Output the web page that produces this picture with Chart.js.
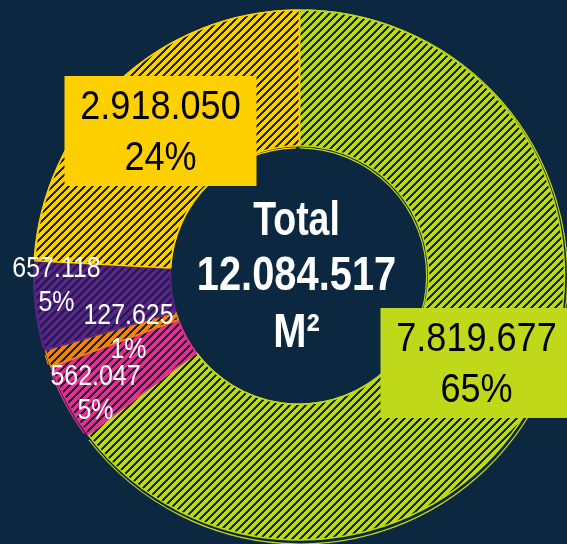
<!DOCTYPE html>
<html lang="es">
<head>
    <meta charset="UTF-8">
    <title>Superficie total</title>
    <script src="https://cdn.jsdelivr.net/npm/chart.js"></script>
    <style>
        html, body {
            margin: 0;
            padding: 0;
            background: #0c2740;
        }
        .chart-container {
            width: 567px;
            height: 544px;
        }
    </style>
</head>
<body>
    <div class="chart-container">
        <canvas id="myChart" width="567" height="544"></canvas>
    </div>

    <script>
        // Data (clockwise from 12 o'clock)
        const categories = ['Verde', 'Rosa', 'Naranja', 'Morado', 'Amarillo'];
        const values = [7819677, 562047, 127625, 657118, 2918050];
        const colors = ['#bfd81a', '#e0318b', '#f0860f', '#5c2386', '#ffd000'];
        const unitLabel = 'M²';

        // label placement, relative to the chart centre
        const labelOffsets = [
            {dx: 177, dy: 88, box: true},
            {dx: -204, dy: 118, box: false},
            {dx: -171, dy: 57, box: false},
            {dx: -243, dy: 10, box: false},
            {dx: -139, dy: -144, box: true}
        ];

        const bg = '#0c2740';
        const font = '"Liberation Sans", Arial, sans-serif';
        const total = values.reduce((a, b) => a + b, 0);
        const fmt = v => v.toLocaleString('de-DE');
        const pct = v => Math.round(v / total * 100) + '%';

        // pixel-crisp diagonal stripes for every slice
        function hatch(color) {
            const size = 8;
            const c = document.createElement('canvas');
            c.width = size;
            c.height = size;
            const g = c.getContext('2d');
            g.fillStyle = color;
            for (let x = 0; x < size; x++) {
                for (let y = 0; y < size; y++) {
                    if ((x + y) % size < 5) g.fillRect(x, y, 1, 1);
                }
            }
            return g.createPattern(c, 'repeat');
        }

        // text squeezed horizontally, to look like a condensed face
        function squeezed(ctx, text, x, y, sx) {
            ctx.save();
            ctx.translate(x, y);
            ctx.scale(sx, 1);
            ctx.fillText(text, 0, 0);
            ctx.restore();
        }

        const bgPlugin = {
            id: 'bgFill',
            beforeDraw(chart) {
                const ctx = chart.ctx;
                ctx.save();
                ctx.fillStyle = bg;
                ctx.fillRect(0, 0, chart.width, chart.height);
                ctx.restore();
            }
        };

        // a second, slightly shifted outline for the hand drawn look
        const sketchPlugin = {
            id: 'sketch',
            afterDatasetsDraw(chart) {
                const ctx = chart.ctx;
                chart.getDatasetMeta(0).data.forEach((arc, i) => {
                    const p = arc.getProps(['x', 'y', 'startAngle', 'endAngle', 'outerRadius', 'innerRadius']);
                    ctx.save();
                    ctx.strokeStyle = colors[i];
                    ctx.lineWidth = 1.2;
                    ctx.beginPath();
                    ctx.arc(p.x + 1, p.y + 2, p.outerRadius + 2, p.startAngle + 0.02, p.endAngle - 0.01);
                    ctx.stroke();
                    ctx.beginPath();
                    ctx.arc(p.x - 1, p.y + 1, p.innerRadius - 1, p.startAngle + 0.01, p.endAngle - 0.02);
                    ctx.stroke();
                    ctx.restore();
                });
            }
        };

        const labelPlugin = {
            id: 'sliceLabels',
            afterDraw(chart) {
                const ctx = chart.ctx;
                const arc = chart.getDatasetMeta(0).data[0];
                const cx = arc.x, cy = arc.y;
                ctx.save();
                ctx.textAlign = 'center';
                ctx.textBaseline = 'middle';

                // centre total
                ctx.fillStyle = '#ffffff';
                ctx.font = 'bold 48px ' + font;
                squeezed(ctx, 'Total', cx - 3, cy - 53, 0.78);
                squeezed(ctx, fmt(total), cx - 3, cy + 2, 0.83);
                squeezed(ctx, unitLabel, cx - 3, cy + 59, 0.83);

                values.forEach((v, i) => {
                    const o = labelOffsets[i];
                    const x = cx + o.dx, y = cy + o.dy;
                    if (o.box) {
                        ctx.fillStyle = colors[i];
                        ctx.fillRect(x - 96, y - 55, 192, 110);
                        ctx.fillStyle = '#000000';
                        ctx.font = '41px ' + font;
                        squeezed(ctx, fmt(v), x, y - 23, 0.88);
                        squeezed(ctx, pct(v), x, y + 28, 0.88);
                    } else {
                        ctx.fillStyle = '#ffffff';
                        ctx.font = '29px ' + font;
                        squeezed(ctx, fmt(v), x, y - 16, 0.86);
                        squeezed(ctx, pct(v), x, y + 18, 0.86);
                    }
                });
                ctx.restore();
            }
        };

        const ctx = document.getElementById('myChart').getContext('2d');
        new Chart(ctx, {
            type: 'doughnut',
            data: {
                labels: categories,
                datasets: [{
                    data: values,
                    backgroundColor: colors.map(hatch),
                    borderColor: colors,
                    borderWidth: 1.5
                }]
            },
            options: {
                responsive: false,
                animation: false,
                radius: 265,
                cutout: 130,
                layout: {
                    padding: {left: 32, top: 6, right: 0, bottom: 0}
                },
                plugins: {
                    legend: {display: false},
                    tooltip: {enabled: false}
                }
            },
            plugins: [bgPlugin, sketchPlugin, labelPlugin]
        });
    </script>
</body>
</html>
